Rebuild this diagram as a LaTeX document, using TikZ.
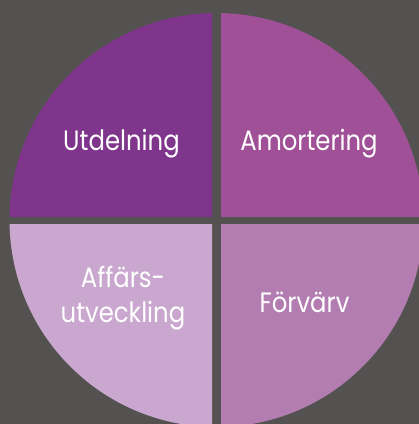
\documentclass[tikz,border=0pt]{standalone}
\usepackage{fontspec}
\setmainfont[FakeStretch=0.87]{Poppins}
\definecolor{bgdark}{HTML}{545250}
\definecolor{plumA}{HTML}{7F358B}
\definecolor{plumB}{HTML}{9F5097}
\definecolor{plumC}{HTML}{B47DB2}
\definecolor{plumD}{HTML}{CAA7CF}
\begin{document}
\begin{tikzpicture}[x=1pt,y=-1pt,
  label/.style={text=white,font=\fontsize{28}{35}\selectfont,inner sep=0pt,align=center}]
\fill[bgdark] (0,0) rectangle (419,424);
\useasboundingbox (0,0) rectangle (419,424);
\clip (0,0) rectangle (419,424);
% four quadrants of one disc, separated by a cross-shaped gap
\begin{scope}
  \clip (0,0) rectangle (212,216);
  \fill[plumA] (216.5,220) circle[radius=207];
\end{scope}
\begin{scope}
  \clip (221,0) rectangle (419,216);
  \fill[plumB] (216.5,220) circle[radius=207];
\end{scope}
\begin{scope}
  \clip (0,224) rectangle (212,424);
  \fill[plumD] (216.5,220) circle[radius=207];
\end{scope}
\begin{scope}
  \clip (221,224) rectangle (419,424);
  \fill[plumC] (216.5,220) circle[radius=207];
\end{scope}
\node[label,anchor=base] (utd) at (121.5,150) {Utdelning};
\node[label,anchor=base] (amo) at (309,150) {Amortering};
\node[label,anchor=base] (aff) at (123,322) {Affärs-\\utveckling};
\node[label,anchor=base] (forv) at (304.5,312) {Förvärv};
\end{tikzpicture}
\end{document}
